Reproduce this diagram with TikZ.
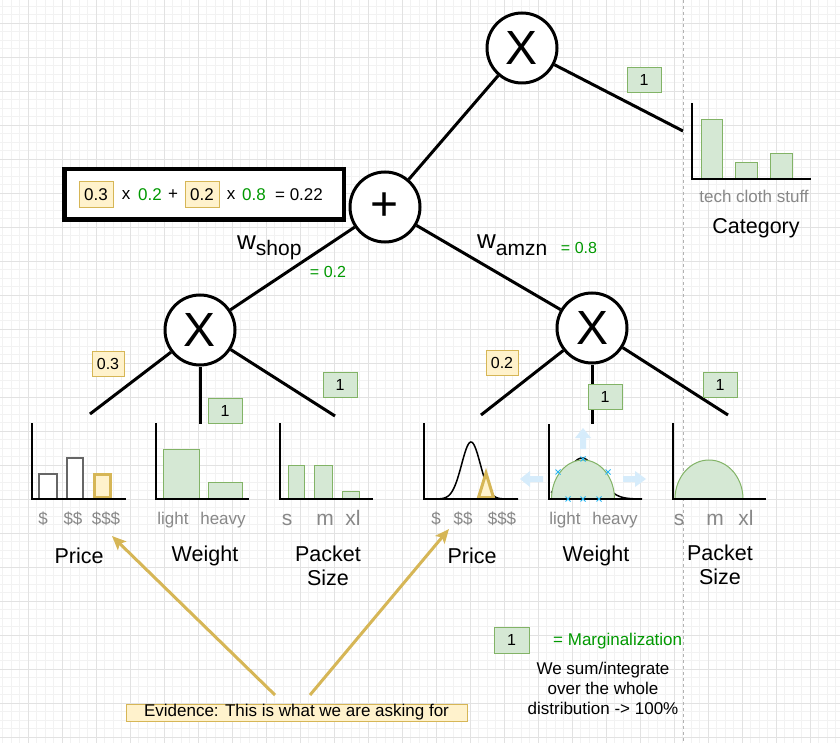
\documentclass[tikz,border=0pt]{standalone}
\usepackage{fontspec}
\setmainfont{Liberation Sans}
\usetikzlibrary{arrows.meta}
\definecolor{gfill}{HTML}{D5E8D4}
\definecolor{gline}{HTML}{82B366}
\definecolor{yfill}{HTML}{FFF2CC}
\definecolor{yline}{HTML}{D6B656}
\definecolor{gtext}{HTML}{009900}
\definecolor{axlab}{HTML}{888888}
\definecolor{gridmin}{HTML}{F2F2F2}
\definecolor{gridmaj}{HTML}{E2E2E2}
\definecolor{selblue}{HTML}{29B6F2}
\definecolor{handle}{HTML}{D6ECFB}
\newcommand\fsz[2]{\fontsize{#1}{#2}\selectfont}
\begin{document}
\begin{tikzpicture}[x=1pt,y=-1pt,
  opnode/.style={circle,draw,line width=3pt,fill=white,minimum size=70pt,inner sep=0pt,font=\fsz{48}{48}},
  edge/.style={line width=3pt},
  onebox/.style={draw=gline,fill=gfill,line width=1pt,minimum width=34pt,minimum height=25pt,inner sep=0pt,font=\fsz{16}{18}},
  ybox/.style={draw=yline,fill=yfill,line width=1pt,minimum width=32pt,minimum height=25pt,inner sep=0pt,font=\fsz{16}{18}},
  axis/.style={line width=2pt},
  gbar/.style={draw=gline,fill=gfill,line width=1pt},
  wbar/.style={draw=black!60,fill=white,line width=1.2pt},
  axlabel/.style={text=axlab,font=\fsz{17}{19},inner sep=0pt,anchor=base},
  biglabel/.style={text=axlab,font=\fsz{21}{23},inner sep=0pt,anchor=base},
  title/.style={font=\fsz{21.5}{24},align=center,inner sep=0pt},
  plain/.style={font=\fsz{17}{19},inner sep=0pt},
  greentxt/.style={text=gtext,font=\fsz{17}{19},inner sep=0pt},
  ev/.style={draw=yline,line width=3pt,-{Stealth[length=14pt,width=12pt,inset=3pt]}},
  handlearrow/.style={fill=handle,draw=none},
  selx/.style={draw=selblue,line width=0.8pt},
]
\useasboundingbox (0,0) rectangle (840,743);
\fill[white] (0,0) rectangle (840,743);
% grid
\foreach \i in {0,...,98} \draw[gridmin,line width=0.8pt] ({2.8+8.5*\i},0) -- ({2.8+8.5*\i},743);
\foreach \j in {0,...,86} \draw[gridmin,line width=0.8pt] (0,{6.3+8.5*\j}) -- (840,{6.3+8.5*\j});
\foreach \i in {0,...,24} \draw[gridmaj,line width=0.8pt] ({28.3+34*\i},0) -- ({28.3+34*\i},743);
\foreach \j in {0,...,21} \draw[gridmaj,line width=0.8pt] (0,{23.3+34*\j}) -- (840,{23.3+34*\j});
% dashed separator
\draw[black!30,line width=0.8pt,dash pattern=on 3pt off 3pt] (683,0) -- (683,743);

% tree nodes
\node[opnode] (top) at (522,48) {X};
\node[opnode] (plus) at (385,207) {+};
\node[opnode] (lx) at (200,330) {X};
\node[opnode] (rx) at (592,328) {X};
\coordinate (catl) at (683,131);
\coordinate (lc1) at (90,414);
\coordinate (lc2) at (200,424);
\coordinate (lc3) at (335,416);
\coordinate (rc1) at (481,415);
\coordinate (rc2) at (592,424);
\coordinate (rc3) at (728,415);
\draw[edge] (top) -- (plus);
\draw[edge] (top) -- (catl);
\draw[edge] (plus) -- (lx);
\draw[edge] (plus) -- (rx);
\draw[edge] (lx) -- (lc1);
\draw[edge] (lx.south) -- (lc2);
\draw[edge] (lx) -- (lc3);
\draw[edge] (rx) -- (rc1);
\draw[edge] (rx.south) -- (rc2);
\draw[edge] (rx) -- (rc3);

% edge labels
\node[onebox] (m0) at (644,80) {1};
\node[ybox] (wl) at (108,364) {0.3};
\node[onebox] (m1) at (225,411) {1};
\node[onebox] (m2) at (340,385) {1};
\node[ybox] (wr) at (502,363) {0.2};
\node[onebox] (m3) at (605,397) {1};
\node[onebox] (m4) at (720,385) {1};

% weights
\node[anchor=base west,inner sep=0pt] (wshop) at (237,250) {\fsz{26}{26}w\raisebox{-6pt}{\fsz{21}{21}shop}};
\node[greentxt,font=\fsz{16}{18}] (wshopv) at (328,272) {= 0.2};
\node[anchor=base west,inner sep=0pt] (wamzn) at (477,248) {\fsz{26}{26}w\raisebox{-7pt}{\fsz{21}{21}amzn}};
\node[greentxt,font=\fsz{16}{18}] (wamznv) at (579,248) {= 0.8};

% equation box
\node[draw,line width=4.5pt,fill=white,minimum width=279.5pt,minimum height=50.5pt,inner sep=0pt] (eq) at (204,194.5) {};
\node[ybox,minimum width=34pt,minimum height=26pt,font=\fsz{17}{19}] (e1) at (96,195) {0.3};
\node[plain] (e2) at (126,195) {x};
\node[greentxt] (e3) at (150,195) {0.2};
\node[plain] (e4) at (173,195) {+};
\node[ybox,minimum width=34pt,minimum height=26pt,font=\fsz{17}{19}] (e5) at (202,195) {0.2};
\node[plain] (e6) at (231,195) {x};
\node[greentxt] (e7) at (254,195) {0.8};
\node[plain] (e8) at (299,195) {= 0.22};

% ---- Category
\draw[gbar] (701,179) rectangle (722,120);
\draw[gbar] (735,179) rectangle (757,163);
\draw[gbar] (770,179) rectangle (792,154);
\draw[axis] (692,103) -- (692,179) -- (811,179);
\node[axlabel] (catlab) at (754,203) {tech cloth stuff};
\node[title] (cattitle) at (756,228) {Category};

% ---- Left Price
\draw[wbar] (39,499) rectangle (57,474);
\draw[wbar] (67,499) rectangle (83,458);
\draw[draw=yline,fill=yfill,line width=3pt] (94.5,497.5) rectangle (110.5,474.5);
\draw[axis] (32,423) -- (32,499) -- (126,499);
\node[axlabel] (lp1) at (43,524) {\$};
\node[axlabel] (lp2) at (73,524) {\$\$};
\node[axlabel] (lp3) at (106,524) {\$\$\$};
\node[title] (lpt) at (79,556) {Price};

% ---- Left Weight
\draw[gbar] (163,499) rectangle (199,449);
\draw[gbar] (208,499) rectangle (242,482);
\draw[axis] (156,423) -- (156,499) -- (249,499);
\node[axlabel] (lw1) at (173,524) {light};
\node[axlabel] (lw2) at (223,524) {heavy};
\node[title] (lwt) at (205,556) {Weight};

% ---- Left Packet Size
\draw[gbar] (288,499) rectangle (304,465);
\draw[gbar] (314,499) rectangle (332,465);
\draw[gbar] (342,499) rectangle (359,491);
\draw[axis] (280,423) -- (280,499) -- (373,499);
\node[biglabel] (ls1) at (287,525) {s};
\node[biglabel] (ls2) at (325,525) {m};
\node[biglabel] (ls3) at (353,525) {xl};
\node[title] (lst) at (328,566) {Packet\\Size};

% ---- Right Price
\draw[line width=1.5pt] plot[domain=426:518,samples=120] (\x,{499-57*exp(-((\x-471)^2)/176.7)});
\draw[draw=yline,fill=yfill,line width=3pt,line join=miter] (486,473) -- (493.5,497.5) -- (478.5,497.5) -- cycle;
\draw[axis] (424,423) -- (424,499) -- (518,499);
\node[axlabel] (rp1) at (436,524) {\$};
\node[axlabel] (rp2) at (463,524) {\$\$};
\node[axlabel] (rp3) at (502,524) {\$\$\$};
\node[title] (rpt) at (472,556) {Price};

% ---- Right Weight
\draw[line width=1.5pt] plot[domain=551:642,samples=100] (\x,{499-41*exp(-((\x-582)^2)/512)});
\draw[gbar] plot[domain=0:180,samples=60] ({583+31.5*cos(\x)},{499-39*sin(\x)}) -- cycle;
\draw[axis] (549,424) -- (549,499) -- (642,499);
% selection handles
\fill[handlearrow] (583,428) -- (591,438) -- (586,438) -- (586,449) -- (580,449) -- (580,438) -- (575,438) -- cycle;
\fill[handlearrow] (520,479) -- (530,471) -- (530,476) -- (543,476) -- (543,482) -- (530,482) -- (530,487) -- cycle;
\fill[handlearrow] (646,479) -- (635,471) -- (635,476) -- (623,476) -- (623,482) -- (635,482) -- (635,487) -- cycle;
\foreach \px/\py in {583/459,558/472,608/472,568/499,583/499,599/499}
  \draw[selx] (\px-2.5,\py-2.5) -- (\px+2.5,\py+2.5) (\px-2.5,\py+2.5) -- (\px+2.5,\py-2.5);
\node[axlabel] (rw1) at (565,524) {light};
\node[axlabel] (rw2) at (615,524) {heavy};
\node[title] (rwt) at (596,556) {Weight};

% ---- Right Packet Size
\draw[gbar] plot[domain=0:180,samples=60] ({709+34*cos(\x)},{499-39*sin(\x)}) -- cycle;
\draw[axis] (673,423) -- (673,499) -- (766,499);
\node[biglabel] (rs1) at (679,525) {s};
\node[biglabel] (rs2) at (715,525) {m};
\node[biglabel] (rs3) at (746,525) {xl};
\node[title] (rst) at (720,565) {Packet\\Size};

% ---- Legend
\node[onebox,minimum width=35pt,minimum height=26pt] (lg) at (511.5,640) {1};
\node[greentxt,anchor=west] (lgt) at (553,641) {= Marginalization};
\node[plain,align=center,font=\fsz{17}{20}] (lgd) at (603,688) {We sum/integrate\\over the whole\\distribution -> 100\%};

% ---- Evidence
\node[draw=yline,fill=yfill,line width=1pt,minimum width=341pt,minimum height=17pt,inner sep=0pt,font=\fsz{17}{18}] (evid) at (296.5,712.5) {Evidence: This is what we are asking for};
\coordinate (ea1) at (275,695);
\coordinate (ea2) at (310,695);
\coordinate (eat1) at (112,536);
\coordinate (eat2) at (449,529);
\draw[ev] (ea1) -- (eat1);
\draw[ev] (ea2) -- (eat2);
\end{tikzpicture}
\end{document}
